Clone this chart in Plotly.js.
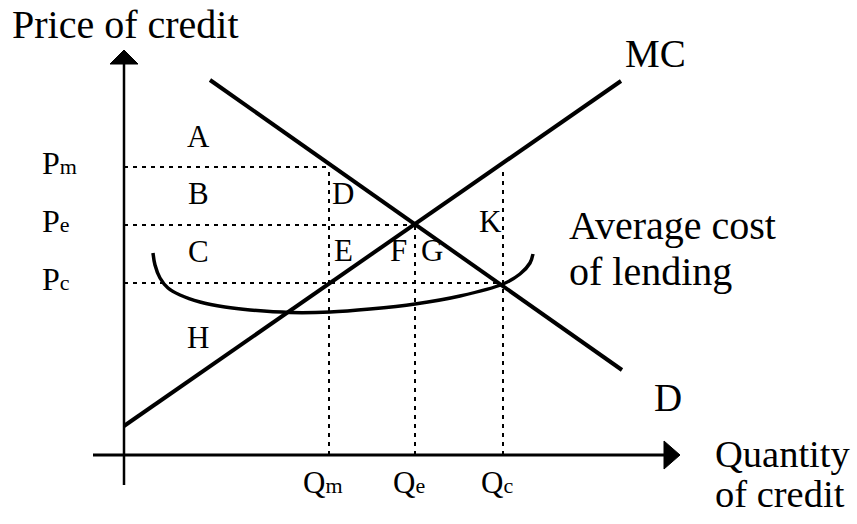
<!DOCTYPE html>
<html>
<head>
<meta charset="utf-8">
<script src="https://cdn.plot.ly/plotly-3.0.1.min.js"></script>
<style>
  body { margin: 0; background: #fff; }
  #chart { width: 857px; height: 524px; }
</style>
</head>
<body>
<div id="chart"></div>
<script>
// price levels Pm, Pe, Pc and quantities Qm, Qe, Qc
const priceLevels = [288, 230, 172];
const priceLabels = ['P', 'P', 'P'];
const priceSubs = ['m', 'e', 'c'];
const quantityLevels = [205, 291, 379];
const quantityLabels = ['Q', 'Q', 'Q'];
const quantitySubs = ['m', 'e', 'c'];
// how high each dotted quantity line goes (Qm -> Pm, Qe -> Pe, Qc -> Pm)
const quantityTops = [288, 230, 288];

// demand and marginal cost lines
const demandX = [86, 498];
const demandY = [375, 85];
const mcX = [0, 497];
const mcY = [29, 374];

// average cost of lending (U shaped)
const acX = [29, 31, 36, 44, 56, 76, 101, 126, 166, 206, 246, 291, 336, 379, 396, 406, 409];
const acY = [202, 190, 177, 167, 160, 153, 148, 145, 142.5, 143, 146, 151, 159, 171, 181, 192, 201];

const regionLetters = ['A', 'B', 'C', 'D', 'E', 'F', 'G', 'H', 'K'];

const serif = 'Liberation Serif, Times New Roman, serif';
const traces = [];

// dotted guide lines
priceLevels.forEach(function(p, i) {
    traces.push({
        x: [0, quantityLevels[i]], y: [p, p],
        mode: 'lines', line: { color: '#000', width: 2, dash: '4px,5px' }
    });
    traces.push({
        x: [quantityLevels[i], quantityLevels[i]], y: [0, quantityTops[i]],
        mode: 'lines', line: { color: '#000', width: 2, dash: '4px,5px' }
    });
});

// axes with arrowheads
traces.push({ x: [-31, 540], y: [0, 0], mode: 'lines', line: { color: '#000', width: 3 } });
traces.push({ x: [0, 0], y: [-30, 391], mode: 'lines', line: { color: '#000', width: 2.5 } });
traces.push({ x: [540, 556, 540, 540], y: [-14, 0, 14, -14], mode: 'lines', fill: 'toself',
    fillcolor: '#000', line: { color: '#000', width: 1 } });
traces.push({ x: [-14, 0, 14, -14], y: [391, 405, 391, 391], mode: 'lines', fill: 'toself',
    fillcolor: '#000', line: { color: '#000', width: 1 } });

// curves
traces.push({ x: demandX, y: demandY, mode: 'lines', line: { color: '#000', width: 4 } });
traces.push({ x: mcX, y: mcY, mode: 'lines', line: { color: '#000', width: 4 } });
traces.push({ x: acX, y: acY, mode: 'lines', line: { color: '#000', width: 3.5, shape: 'spline' } });

const annotations = [];
function label(text, x, y, size, anchor) {
    annotations.push({
        text: text, x: x, y: y, xref: 'x', yref: 'y', showarrow: false,
        xanchor: anchor || 'center', yanchor: 'middle', align: 'left',
        font: { family: serif, size: size, color: '#000' }
    });
}
// small letter set just after the main one, nearly on the same baseline
function withSub(main, sub) {
    return main + '<span style="font-size:22px">' + sub + '</span>';
}

label('Price of credit', -114, 431, 40, 'left');
label('MC', 531, 402, 39);
label('D', 544, 58, 39);
label('Average cost', 443, 230, 40, 'left');
label('of lending', 443, 184, 40, 'left');
label('Quantity', 589, 1, 38.5, 'left');
label('of credit', 589, -39, 38.5, 'left');

priceLevels.forEach(function(p, i) {
    label(withSub(priceLabels[i], priceSubs[i]), -84, p + 4, 32, 'left');
});
quantityLevels.forEach(function(q, i) {
    label(withSub(quantityLabels[i], quantitySubs[i]), q - 6, -27, 31);
});

const letterPos = [[74, 319], [74, 262], [74, 204], [219, 262], [219, 205],
                   [274, 205], [308, 205], [74, 118], [366, 234]];
regionLetters.forEach(function(t, i) {
    label(t, letterPos[i][0], letterPos[i][1], 31);
});

const layout = {
    width: 857, height: 524,
    margin: { l: 0, r: 0, t: 0, b: 0 },
    paper_bgcolor: '#fff', plot_bgcolor: '#fff',
    showlegend: false,
    xaxis: { range: [-124, 733], visible: false, fixedrange: true },
    yaxis: { range: [-69, 455], visible: false, fixedrange: true },
    annotations: annotations
};

Plotly.newPlot('chart', traces, layout, { staticPlot: true, displayModeBar: false });
</script>
</body>
</html>
